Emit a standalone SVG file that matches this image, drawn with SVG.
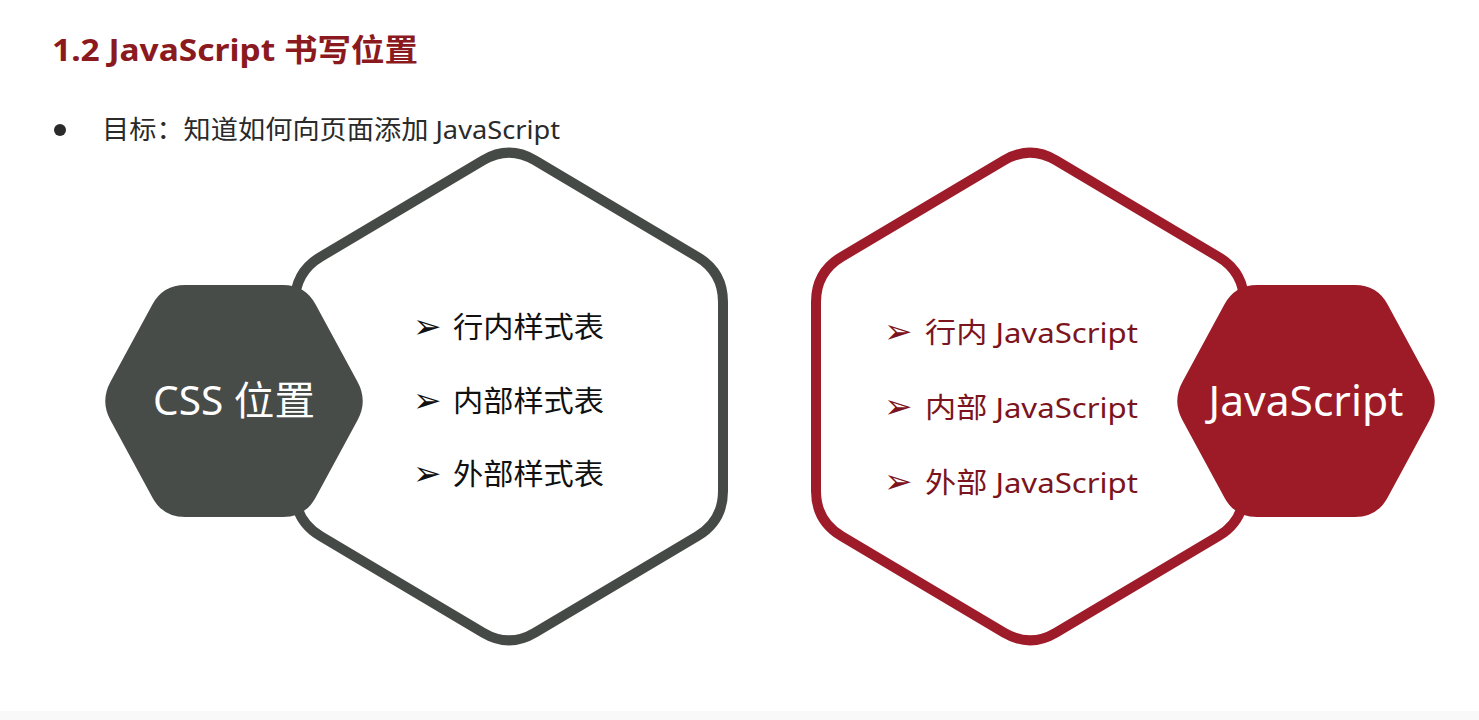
<svg xmlns="http://www.w3.org/2000/svg" width="1479" height="720" viewBox="0 0 1479 720">
<style>
.title{font-family:"Noto Sans","Noto Sans CJK SC",sans-serif;font-weight:bold;font-size:31px;fill:#8b1a1f}
.goal{font-family:"Noto Sans","Noto Sans CJK SC",sans-serif;font-size:26px;fill:#2a2a2a}
.big-gray{fill:#ffffff;stroke:#464a47;stroke-width:10}
.big-red{fill:#ffffff;stroke:#9e1b29;stroke-width:10}
.hex-gray{fill:#474c49}
.hex-red{fill:#9c1b26}
.hlabel{font-family:"Noto Sans","Noto Sans CJK SC",sans-serif;fill:#ffffff;text-anchor:middle}
.item{font-family:"Noto Sans","Noto Sans CJK SC",sans-serif;font-size:29px;fill:#111111}
.item-red{font-family:"Noto Sans","Noto Sans CJK SC",sans-serif;font-size:28px;fill:#7c1420}
.arr{font-family:"DejaVu Sans",sans-serif;font-size:34px;fill:#111111}
.arr-red{font-family:"DejaVu Sans",sans-serif;font-size:34px;fill:#7c1420}
</style>
<defs>
<path id="bighex" d="M 483.2,160.3 Q 509,145 534.8,160.3 L 697.2,256.7 Q 723,272 723,302 L 723,491 Q 723,521 697.2,536.3 L 534.8,632.7 Q 509,648 483.2,632.7 L 320.8,536.3 Q 295,521 295,491 L 295,302 Q 295,272 320.8,256.7 Z"/>
<path id="smallhex" d="M 110.5,420.3 Q 100,401 110.5,381.7 L 152.5,304.3 Q 163,285 185,285 L 283,285 Q 305,285 315.5,304.3 L 357.5,381.7 Q 368,401 357.5,420.3 L 315.5,497.7 Q 305,517 283,517 L 185,517 Q 163,517 152.5,497.7 Z"/>
</defs>
<rect x="0" y="0" width="1479" height="720" fill="#ffffff"/>
<rect x="0" y="711" width="1479" height="9" fill="#f9f9f9"/>

<g id="title">
<text class="title" x="52" y="61" textLength="366" lengthAdjust="spacingAndGlyphs">1.2 JavaScript 书写位置</text>
</g>
<g id="goal">
<circle cx="60" cy="130" r="6" fill="#2a2a2a"/>
<text class="goal" x="102" y="139" textLength="458" lengthAdjust="spacingAndGlyphs">目标：知道如何向页面添加 JavaScript</text>
</g>

<g id="connectors"></g>

<g id="css-outer">
<use href="#bighex" class="big-gray"/>
</g>
<g id="css-items">
<text class="arr" x="413" y="338">➢</text>
<text class="item" x="453" y="338" textLength="151" lengthAdjust="spacingAndGlyphs">行内样式表</text>
<text class="arr" x="413" y="412">➢</text>
<text class="item" x="453" y="412" textLength="151" lengthAdjust="spacingAndGlyphs">内部样式表</text>
<text class="arr" x="413" y="485">➢</text>
<text class="item" x="453" y="485" textLength="151" lengthAdjust="spacingAndGlyphs">外部样式表</text>
</g>
<g id="css-hex">
<use href="#smallhex" class="hex-gray"/>
<text class="hlabel" x="234" y="415" font-size="40" textLength="162" lengthAdjust="spacingAndGlyphs">CSS 位置</text>
</g>

<g id="js-outer" transform="translate(521,0)">
<use href="#bighex" class="big-red"/>
</g>
<g id="js-items">
<text class="arr-red" x="884" y="343">➢</text>
<text class="item-red" x="925" y="343" textLength="213" lengthAdjust="spacingAndGlyphs">行内 JavaScript</text>
<text class="arr-red" x="884" y="418">➢</text>
<text class="item-red" x="925" y="418" textLength="213" lengthAdjust="spacingAndGlyphs">内部 JavaScript</text>
<text class="arr-red" x="884" y="493">➢</text>
<text class="item-red" x="925" y="493" textLength="213" lengthAdjust="spacingAndGlyphs">外部 JavaScript</text>
</g>
<g id="js-hex" transform="translate(1072,0)">
<use href="#smallhex" class="hex-red"/>
<text class="hlabel" x="234" y="416" font-size="42" textLength="195" lengthAdjust="spacingAndGlyphs">JavaScript</text>
</g>
</svg>
